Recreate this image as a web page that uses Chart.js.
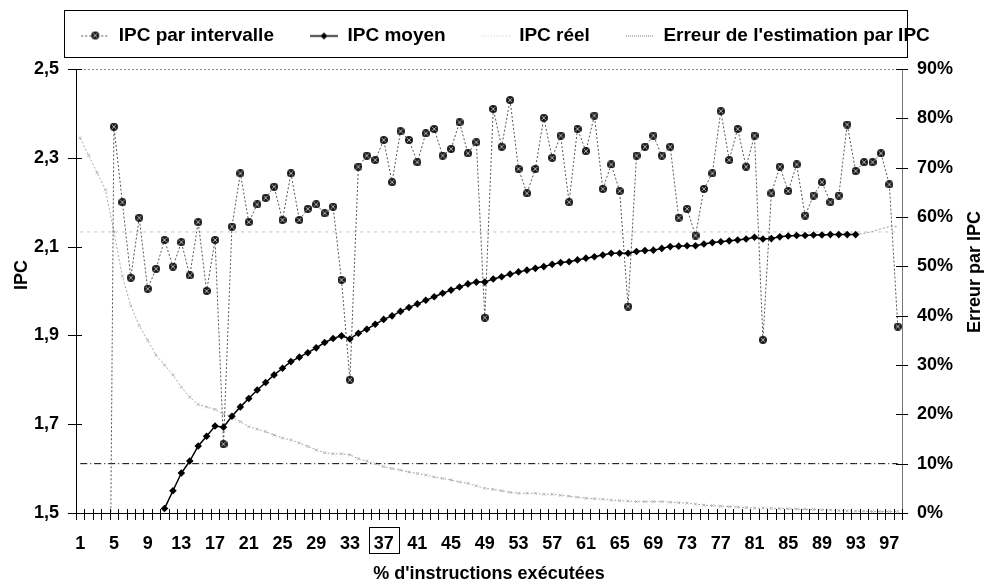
<!DOCTYPE html>
<html lang="fr">
<head>
<meta charset="UTF-8">
<title>IPC par intervalle</title>
<style>
  html, body { margin: 0; padding: 0; background: #fff; }
  #wrap { width: 985px; height: 585px; }
</style>
</head>
<body>
<div id="wrap"><canvas id="ipcChart" width="985" height="585"></canvas></div>
<script src="https://cdn.jsdelivr.net/npm/chart.js@4"></script>
<script>
// % d'instructions exécutées (categories)
const categories = [
   1,  2,  3,  4,  5,  6,  7,  8,  9, 10, 11, 12, 13, 14, 15, 16, 17, 18, 19, 20,
  21, 22, 23, 24, 25, 26, 27, 28, 29, 30, 31, 32, 33, 34, 35, 36, 37, 38, 39, 40,
  41, 42, 43, 44, 45, 46, 47, 48, 49, 50, 51, 52, 53, 54, 55, 56, 57, 58, 59, 60,
  61, 62, 63, 64, 65, 66, 67, 68, 69, 70, 71, 72, 73, 74, 75, 76, 77, 78, 79, 80,
  81, 82, 83, 84, 85, 86, 87, 88, 89, 90, 91, 92, 93, 94, 95, 96, 97, 98
];

const ipcIntervalle = [
  0, 0, 0, 0, 2.37, 2.20, 2.03, 2.165, 2.005, 2.05,
  2.115, 2.055, 2.11, 2.035, 2.155, 2.00, 2.115, 1.655, 2.145, 2.265,
  2.155, 2.195, 2.21, 2.235, 2.16, 2.265, 2.16, 2.185, 2.195, 2.175,
  2.19, 2.025, 1.80, 2.28, 2.305, 2.295, 2.34, 2.245, 2.36, 2.34,
  2.29, 2.355, 2.365, 2.305, 2.32, 2.38, 2.31, 2.335, 1.94, 2.41,
  2.325, 2.43, 2.275, 2.22, 2.275, 2.39, 2.30, 2.35, 2.20, 2.365,
  2.315, 2.395, 2.23, 2.285, 2.225, 1.965, 2.305, 2.325, 2.35, 2.305,
  2.325, 2.165, 2.185, 2.125, 2.23, 2.265, 2.405, 2.295, 2.365, 2.28,
  2.35, 1.89, 2.22, 2.28, 2.225, 2.285, 2.17, 2.215, 2.245, 2.20,
  2.215, 2.375, 2.27, 2.29, 2.29, 2.31, 2.24, 1.92
];

const ipcMoyen = [
  null, null, null, null, null, null, null, null, null, null,
  1.51, 1.55, 1.59, 1.617, 1.651, 1.673, 1.696, 1.693, 1.718, 1.739,
  1.758, 1.777, 1.794, 1.811, 1.826, 1.841, 1.851, 1.861, 1.872, 1.884,
  1.893, 1.899, 1.892, 1.905, 1.914, 1.925, 1.936, 1.944, 1.954, 1.963,
  1.971, 1.979, 1.987, 1.995, 2.002, 2.009, 2.016, 2.020, 2.020, 2.027,
  2.032, 2.038, 2.043, 2.047, 2.051, 2.055, 2.060, 2.064, 2.066, 2.070,
  2.074, 2.077, 2.081, 2.085, 2.085, 2.085, 2.089, 2.091, 2.092, 2.096,
  2.100, 2.101, 2.102, 2.102, 2.106, 2.109, 2.111, 2.113, 2.115, 2.117,
  2.121, 2.117, 2.118, 2.122, 2.124, 2.125, 2.125, 2.126, 2.126, 2.127,
  2.127, 2.127, 2.127, 2.130, 2.134, 2.140, 2.145, 2.145
];

// IPC réel (constant)
const ipcReel = 2.133;

// Erreur de l'estimation par IPC (%)
const erreurIPC = [
  76, 72.5, 69, 65.5, 57, 48, 42, 38, 35, 32,
  30, 28, 25.5, 23.5, 22, 21.5, 21, 20, 19.5, 18.5,
  17.5, 17, 16.5, 15.8, 15.2, 14.8, 14.2, 13.5, 12.8, 12.2,
  12, 12, 11.8, 11, 10.5, 10, 9.4, 9, 8.7, 8.3,
  8, 7.7, 7.3, 7, 6.7, 6.3, 6, 5.5, 5, 4.8,
  4.5, 4.2, 4, 4, 4, 3.8, 3.8, 3.6, 3.4, 3.2,
  3, 2.9, 2.8, 2.6, 2.5, 2.4, 2.3, 2.3, 2.3, 2.3,
  2.2, 2.1, 2.0, 1.8, 1.6, 1.5, 1.4, 1.3, 1.2, 1.1,
  1.0, 1.0, 0.95, 0.9, 0.85, 0.8, 0.75, 0.7, 0.65, 0.6,
  0.5, 0.45, 0.4, 0.35, 0.3, 0.3, 0.3, 0.3
];

// seuil d'erreur (ligne tiret-point)
const seuilErreur = 10;

const yTicksIPC = [1.5, 1.7, 1.9, 2.1, 2.3, 2.5];
const yTicksErreur = [0, 10, 20, 30, 40, 50, 60, 70, 80, 90];
const labelEncadre = 37;

const FONT = 'Arial, "Liberation Sans", sans-serif';
Chart.defaults.font.family = FONT;
Chart.defaults.font.weight = 'bold';
Chart.defaults.color = '#000';

// marker for "IPC par intervalle"
function makeMarker() {
  const c = document.createElement('canvas');
  c.width = 8; c.height = 8;
  const g = c.getContext('2d');
  g.fillStyle = '#1a1a1a';
  g.beginPath(); g.arc(4, 4, 4, 0, Math.PI * 2); g.fill();
  g.strokeStyle = '#b0b0b0'; g.lineWidth = 1;
  g.beginPath();
  g.moveTo(2, 2); g.lineTo(6, 6); g.moveTo(6, 2); g.lineTo(2, 6);
  g.stroke();
  return c;
}
const intervalleMarker = makeMarker();

// legend icons: transparent left part gives the spacing between items
function legendIcon(draw) {
  const c = document.createElement('canvas');
  c.width = 54; c.height = 12;
  const g = c.getContext('2d');
  draw(g);
  return c;
}
const icons = [
  legendIcon(g => {
    g.strokeStyle = '#555'; g.setLineDash([2, 2]);
    g.beginPath(); g.moveTo(26, 6.5); g.lineTo(54, 6.5); g.stroke();
    g.drawImage(intervalleMarker, 36, 2);
  }),
  legendIcon(g => {
    g.strokeStyle = '#000'; g.lineWidth = 1.5;
    g.beginPath(); g.moveTo(26, 6.5); g.lineTo(54, 6.5); g.stroke();
    g.fillStyle = '#000';
    g.beginPath(); g.moveTo(40, 3); g.lineTo(43.5, 6.5); g.lineTo(40, 10); g.lineTo(36.5, 6.5); g.closePath(); g.fill();
  }),
  legendIcon(g => {
    g.strokeStyle = '#c8c8c8'; g.setLineDash([1, 2]);
    g.beginPath(); g.moveTo(26, 6.5); g.lineTo(54, 6.5); g.stroke();
  }),
  legendIcon(g => {
    g.strokeStyle = '#777'; g.setLineDash([1, 1]);
    g.beginPath(); g.moveTo(26, 6.5); g.lineTo(54, 6.5); g.stroke();
  })
];
const legendTexts = ['IPC par intervalle', 'IPC moyen', 'IPC réel', "Erreur de l'estimation par IPC"];

const decorPlugin = {
  id: 'decor',
  beforeInit(chart) {
    const fit = chart.legend.fit;
    chart.legend.fit = function () {
      fit.call(this);
      this.height = 53;
    };
  },
  afterDraw(chart) {
    const { ctx, chartArea: a, scales } = chart;
    ctx.save();
    // top edge of plot area, dotted
    ctx.strokeStyle = '#888';
    ctx.lineWidth = 1;
    ctx.setLineDash([2, 2]);
    ctx.beginPath();
    ctx.moveTo(a.left, Math.round(a.top) + 0.5);
    ctx.lineTo(a.right, Math.round(a.top) + 0.5);
    ctx.stroke();
    ctx.setLineDash([]);

    // crossing tick marks
    ctx.strokeStyle = '#000';
    ctx.beginPath();
    scales.y.ticks.forEach(t => {
      const py = Math.round(scales.y.getPixelForValue(t.value)) + 0.5;
      ctx.moveTo(a.left - 8, py); ctx.lineTo(a.left + 6, py);
    });
    scales.y1.ticks.forEach(t => {
      const py = Math.round(scales.y1.getPixelForValue(t.value)) + 0.5;
      ctx.moveTo(a.right - 6, py); ctx.lineTo(a.right + 6, py);
    });
    const w = (a.right - a.left) / categories.length;
    for (let k = 0; k <= categories.length; k++) {
      const px = Math.round(a.left + k * w) + 0.5;
      ctx.moveTo(px, a.bottom - 4); ctx.lineTo(px, a.bottom + 7);
    }
    ctx.stroke();

    // box around label 37
    const cx = scales.x.getPixelForValue(categories.indexOf(labelEncadre));
    ctx.strokeRect(Math.round(cx - 15) + 0.5, Math.round(a.bottom) + 14.5, 30, 26);

    // legend frame
    ctx.strokeRect(Math.round(a.left) - 11.5, 10.5, Math.round(a.right - a.left) + 17, Math.round(a.top) - 22);

    // axis titles
    ctx.fillStyle = '#000';
    ctx.font = 'bold 18px ' + FONT;
    ctx.textAlign = 'center';
    ctx.textBaseline = 'middle';
    ctx.save();
    ctx.translate(22, 275);
    ctx.rotate(-Math.PI / 2);
    ctx.fillText('IPC', 0, 0);
    ctx.restore();
    ctx.save();
    ctx.translate(975, 272);
    ctx.rotate(-Math.PI / 2);
    ctx.fillText('Erreur par IPC', 0, 0);
    ctx.restore();
    ctx.restore();
  }
};

const ctx = document.getElementById('ipcChart').getContext('2d');
new Chart(ctx, {
  type: 'line',
  data: {
    labels: categories,
    datasets: [
      {
        label: 'IPC par intervalle',
        data: ipcIntervalle,
        yAxisID: 'y',
        borderColor: '#555',
        borderWidth: 1,
        borderDash: [2, 2],
        pointStyle: intervalleMarker,
        pointRadius: 4,
        order: 1
      },
      {
        label: 'IPC moyen',
        data: ipcMoyen,
        yAxisID: 'y',
        borderColor: '#000',
        backgroundColor: '#000',
        borderWidth: 1.5,
        pointStyle: 'rectRot',
        pointRadius: c => c.dataIndex > 92 ? 0 : 3.8,
        pointBorderWidth: 0,
        segment: {
          borderColor: c => c.p0DataIndex >= 92 ? '#999' : undefined,
          borderDash: c => c.p0DataIndex >= 92 ? [2, 2] : undefined,
          borderWidth: c => c.p0DataIndex >= 92 ? 1 : undefined
        },
        order: 0
      },
      {
        label: 'IPC réel',
        data: categories.map(() => ipcReel),
        yAxisID: 'y',
        borderColor: '#c4c4c4',
        borderWidth: 1,
        borderDash: [3, 4],
        pointRadius: 0,
        order: 2
      },
      {
        label: "Erreur de l'estimation par IPC",
        data: erreurIPC,
        yAxisID: 'y1',
        borderColor: '#aaa',
        borderWidth: 1,
        borderDash: [2, 2],
        pointStyle: 'crossRot',
        pointRadius: 2,
        pointBorderColor: '#b4b4b4',
        pointBorderWidth: 1,
        order: 3
      },
      {
        label: 'seuil',
        data: categories.map(() => seuilErreur),
        yAxisID: 'y1',
        borderColor: '#000',
        borderWidth: 1,
        borderDash: [7, 3, 1, 3],
        pointRadius: 0,
        order: 4
      }
    ]
  },
  options: {
    responsive: false,
    devicePixelRatio: 1,
    animation: false,
    layout: { padding: { top: 16, left: 0, right: 0, bottom: 0 } },
    elements: { line: { tension: 0 } },
    plugins: {
      tooltip: { enabled: false },
      legend: {
        display: true,
        position: 'top',
        labels: {
          usePointStyle: true,
          pointStyleWidth: 54,
          boxHeight: 12,
          padding: 10,
          color: '#000',
          font: { size: 19, weight: 'bold' },
          generateLabels: () => legendTexts.map((t, i) => ({
            text: t,
            pointStyle: icons[i],
            datasetIndex: i,
            hidden: false,
            lineWidth: 0,
            fillStyle: 'transparent',
            strokeStyle: 'transparent',
            fontColor: '#000'
          }))
        }
      }
    },
    scales: {
      x: {
        type: 'category',
        offset: true,
        grid: { display: false, drawTicks: false },
        border: { display: true, color: '#000', width: 1 },
        ticks: {
          autoSkip: false,
          maxRotation: 0,
          padding: 20,
          color: '#000',
          font: { size: 18, weight: 'bold' },
          callback: (v, i) => i % 4 === 0 ? categories[i] : ''
        },
        title: {
          display: true,
          text: "% d'instructions exécutées",
          color: '#000',
          font: { size: 18, weight: 'bold' },
          padding: { top: 0, bottom: 0 }
        },
        afterFit: s => { s.height = 72; }
      },
      y: {
        position: 'left',
        min: 1.5,
        max: 2.5,
        afterBuildTicks: s => { s.ticks = yTicksIPC.map(v => ({ value: v })); },
        grid: { display: false, drawTicks: false },
        border: { display: true, color: '#000', width: 1 },
        ticks: {
          padding: 17,
          color: '#000',
          font: { size: 18, weight: 'bold' },
          callback: v => v.toFixed(1).replace('.', ',')
        },
        afterFit: s => { s.width = 76; }
      },
      y1: {
        position: 'right',
        min: 0,
        max: 90,
        afterBuildTicks: s => { s.ticks = yTicksErreur.map(v => ({ value: v })); },
        grid: { display: false, drawTicks: false },
        border: { display: true, color: '#777', width: 1 },
        ticks: {
          padding: 15,
          color: '#000',
          font: { size: 18, weight: 'bold' },
          callback: v => v + '%'
        },
        afterFit: s => { s.width = 83; }
      }
    }
  },
  plugins: [decorPlugin]
});
</script>
</body>
</html>
